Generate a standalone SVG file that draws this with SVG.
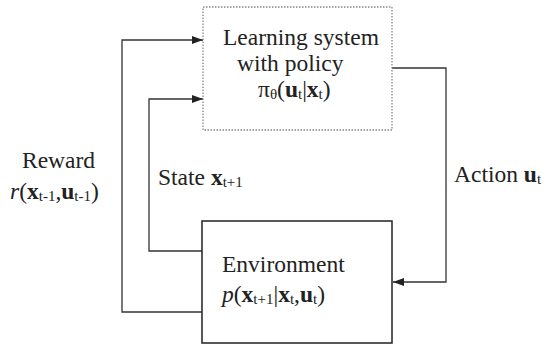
<svg xmlns="http://www.w3.org/2000/svg" width="548" height="345" viewBox="0 0 548 345">
<defs>
<style>
text{font-family:'Liberation Serif','Times New Roman','DejaVu Serif',serif;font-size:23.5px;fill:#222}
.b{font-weight:bold}
.s{font-size:15px}
.i{font-style:italic}
.ln{fill:none;stroke:#333;stroke-width:1.3}
</style>
<marker id="ah" markerUnits="userSpaceOnUse" markerWidth="12" markerHeight="8" refX="11" refY="4" orient="auto">
<path d="M0,0 L11,4 L0,8 z" fill="#222"/>
</marker>
</defs>
<rect width="548" height="345" fill="#fff"/>
<g id="connectors">
<path class="ln" d="M392,68 H446 V282 H393" marker-end="url(#ah)"/>
<path class="ln" d="M202,251 H149 V99 H203" marker-end="url(#ah)"/>
<path class="ln" d="M202,312 H122 V40 H203" marker-end="url(#ah)"/>
</g>
<g id="learning">
<rect x="203" y="7" width="189" height="123" fill="none" stroke="#888" stroke-width="1.3" stroke-dasharray="1.5,1.5"/>
<text x="223" y="45">Learning system</text>
<text x="237" y="71">with policy</text>
<text x="258" y="97">π<tspan class="s" dy="2">θ</tspan><tspan dy="-2">(</tspan><tspan class="b">u</tspan><tspan class="s" dy="2">t</tspan><tspan dy="-2">|</tspan><tspan class="b">x</tspan><tspan class="s" dy="2">t</tspan><tspan dy="-2">)</tspan></text>
</g>
<g id="environment">
<rect x="202" y="221" width="190" height="122" fill="none" stroke="#222" stroke-width="1.5"/>
<text x="222" y="272">Environment</text>
<text x="222" y="302"><tspan class="i">p</tspan>(<tspan class="b">x</tspan><tspan class="s" dy="2">t+1</tspan><tspan dy="-2">|</tspan><tspan class="b">x</tspan><tspan class="s" dy="2">t</tspan><tspan dy="-2">,</tspan><tspan class="b">u</tspan><tspan class="s" dy="2">t</tspan><tspan dy="-2">)</tspan></text>
</g>
<g id="labels">
<text x="22" y="168">Reward</text>
<text x="10" y="199"><tspan class="i">r</tspan>(<tspan class="b">x</tspan><tspan class="s" dy="2">t-1</tspan><tspan dy="-2">,</tspan><tspan class="b">u</tspan><tspan class="s" dy="2">t-1</tspan><tspan dy="-2">)</tspan></text>
<text x="158" y="185">State <tspan class="b">x</tspan><tspan class="s" dy="2">t+1</tspan></text>
<text x="454" y="182">Action <tspan class="b">u</tspan><tspan class="s" dy="2">t</tspan></text>
</g>
</svg>
